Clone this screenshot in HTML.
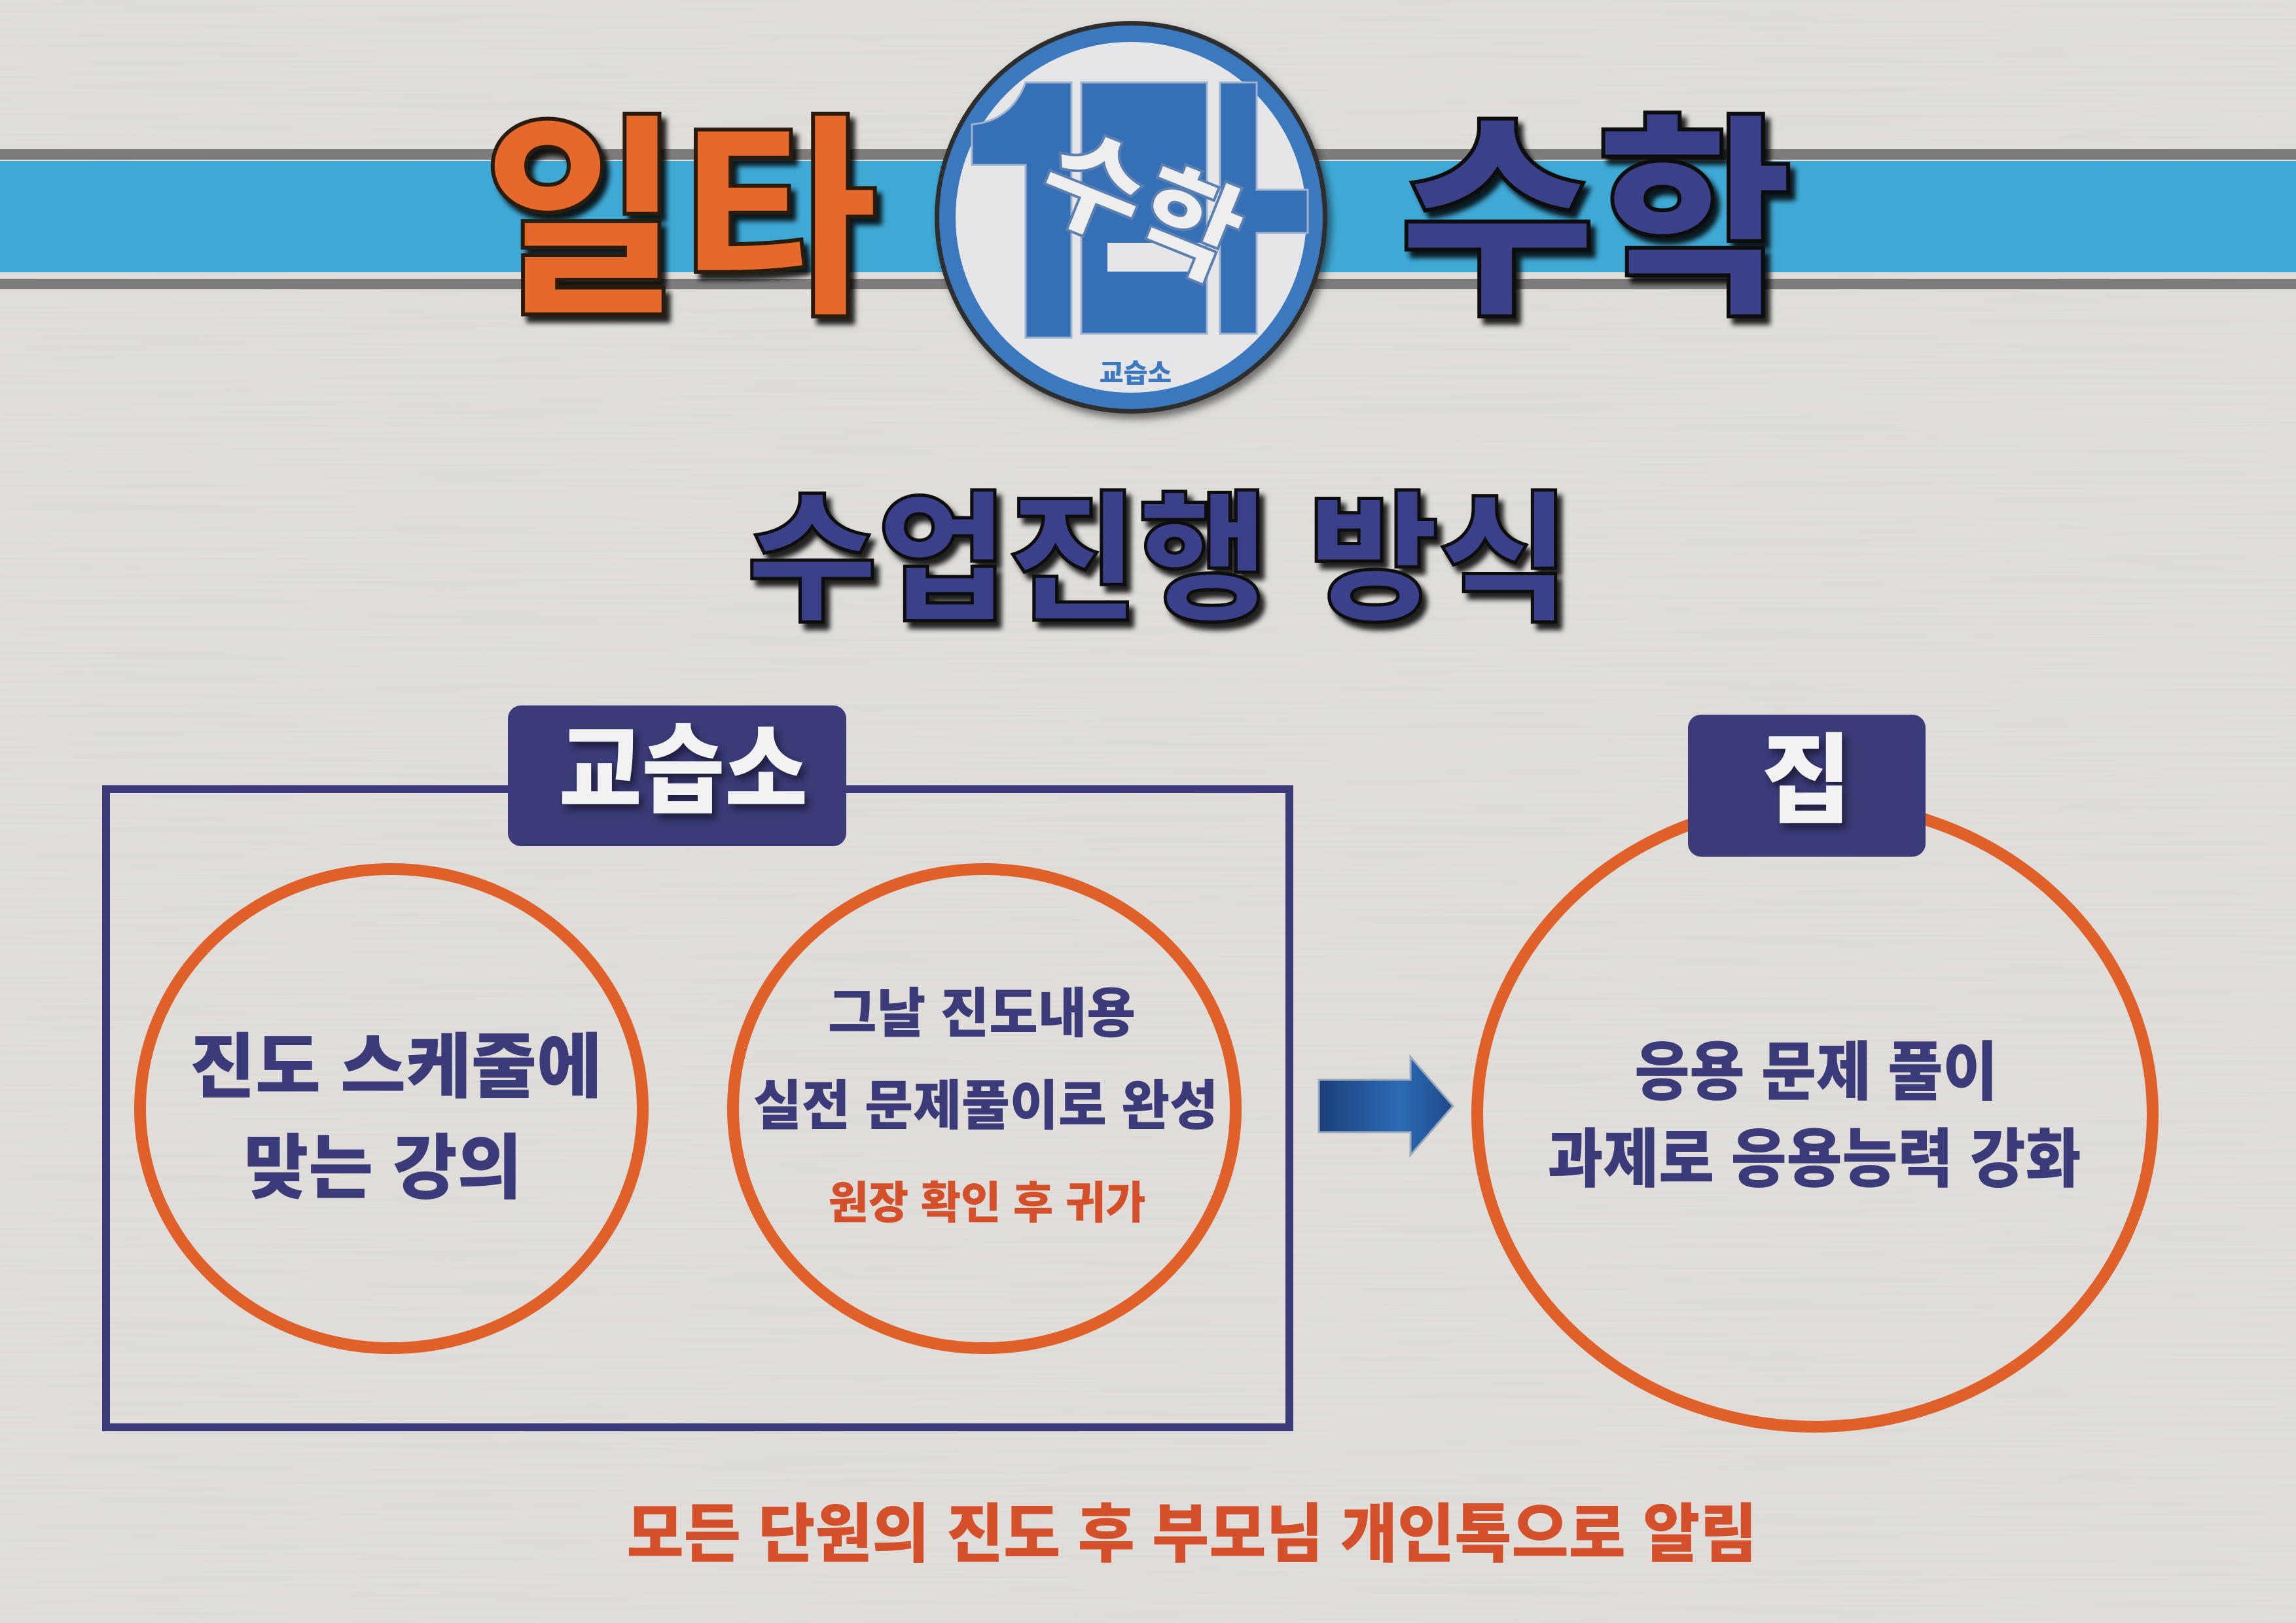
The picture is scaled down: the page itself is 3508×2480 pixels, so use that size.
<!DOCTYPE html>
<html><head><meta charset="utf-8"><style>
html,body{margin:0;padding:0;width:3508px;height:2480px;overflow:hidden;background:#e3e0dc}
svg{display:block}
text{font-family:"Liberation Sans","Noto Sans CJK KR",sans-serif;font-weight:900}
</style></head><body>
<svg width="3508" height="2480" viewBox="0 0 3508 2480" xmlns="http://www.w3.org/2000/svg">
<defs>
<filter id="tex" x="0" y="0" width="100%" height="100%">
<feTurbulence type="fractalNoise" baseFrequency="0.002 0.25" numOctaves="2" seed="3"/>
<feColorMatrix values="0 0 0 0 0.5  0 0 0 0 0.5  0 0 0 0 0.5  0 0 0 0.18 0"/>
</filter>
<filter id="sh" x="-10%" y="-10%" width="130%" height="130%">
<feDropShadow dx="8" dy="10" stdDeviation="4" flood-color="#000" flood-opacity="0.85"/>
</filter>
<filter id="sh2" x="-10%" y="-10%" width="130%" height="130%">
<feDropShadow dx="6" dy="8" stdDeviation="6" flood-color="#000" flood-opacity="0.5"/>
</filter>
<linearGradient id="ag" x1="0" x2="1"><stop offset="0" stop-color="#1c3f7a"/><stop offset="0.6" stop-color="#2c6bb5"/><stop offset="1" stop-color="#1e4a8a"/></linearGradient>
</defs>
<rect width="3508" height="2480" fill="#e3e0dc"/>
<rect width="3508" height="2480" filter="url(#tex)"/>

<!-- band -->
<rect x="0" y="228" width="3508" height="16" fill="#7d7b7b"/>
<rect x="0" y="246" width="3508" height="170" fill="#3fa9d6"/>
<rect x="0" y="426" width="3508" height="16" fill="#7d7b7b"/>

<text x="738" y="452" font-size="330" fill="#e5692c" stroke="#2a1a10" stroke-width="6" textLength="604" lengthAdjust="spacingAndGlyphs" filter="url(#sh)">일타</text>
<text x="2137" y="452" font-size="330" fill="#3a3f8a" stroke="#111" stroke-width="6" textLength="603" lengthAdjust="spacingAndGlyphs" filter="url(#sh)">수학</text>

<!-- logo -->
<g filter="url(#sh2)">
<circle cx="1728" cy="332" r="300" fill="#2d2d2d"/>
<circle cx="1728" cy="332" r="293" fill="#3b78bd"/>
<circle cx="1728" cy="332" r="268" fill="#e6e6e8"/>
</g>
<g fill="#3570b6" stroke="#9fb3cc" stroke-width="3">
<path d="M1567 126 L1637 126 L1637 516 L1567 516 L1567 252 L1485 252 L1485 190 Q1545 185 1567 126 Z"/>
<path d="M1652 126 L1844 126 L1844 510 L1652 510 Z"/>
<path d="M1864 126 L1920 126 L1920 290 L1998 290 L1998 356 L1920 356 L1920 510 L1864 510 Z"/>
</g>
<rect x="1692" y="371" width="150" height="44" fill="#e6e6e8"/>
<text x="1744" y="375" font-size="170" fill="#eeeeee" stroke="#5a7fb0" stroke-width="4" text-anchor="middle" transform="rotate(22 1744 315)">수학</text>
<text x="1735" y="584" font-size="40" fill="#3b78bd" text-anchor="middle">교습소</text>

<text x="1141" y="930" font-size="215" fill="#3a3f8a" stroke="#111" stroke-width="5" textLength="1257" lengthAdjust="spacingAndGlyphs" filter="url(#sh)">수업진행 방식</text>

<rect x="162" y="1206" width="1808" height="975" fill="none" stroke="#3a3b78" stroke-width="12"/>
<rect x="776" y="1078" width="517" height="215" rx="20" fill="#3a3b78"/>
<text x="1044" y="1230" font-size="150" fill="#f2f2f2" text-anchor="middle" textLength="380" lengthAdjust="spacingAndGlyphs" filter="url(#sh2)">교습소</text>

<ellipse cx="598" cy="1694" rx="384" ry="366" fill="none" stroke="#e0602a" stroke-width="18"/>
<ellipse cx="1504" cy="1694" rx="384" ry="366" fill="none" stroke="#e0602a" stroke-width="18"/>
<ellipse cx="2773" cy="1703" rx="516" ry="477" fill="none" stroke="#e0602a" stroke-width="18"/>

<rect x="2579" y="1092" width="363" height="217" rx="20" fill="#3a3b78"/>
<text x="2760" y="1245" font-size="150" fill="#f2f2f2" text-anchor="middle" filter="url(#sh2)">집</text>

<g fill="#3a3b78">
<text x="605" y="1668" font-size="108" text-anchor="middle" textLength="630" lengthAdjust="spacingAndGlyphs">진도 스케줄에</text>
<text x="585" y="1822" font-size="108" text-anchor="middle" textLength="425" lengthAdjust="spacingAndGlyphs">맞는 강의</text>
<text x="1500" y="1577" font-size="82" text-anchor="middle" textLength="470" lengthAdjust="spacingAndGlyphs">그날 진도내용</text>
<text x="1506" y="1718" font-size="82" text-anchor="middle" textLength="710" lengthAdjust="spacingAndGlyphs">실전 문제풀이로 완성</text>
<text x="2775" y="1672" font-size="98" text-anchor="middle" textLength="555" lengthAdjust="spacingAndGlyphs">응용 문제 풀이</text>
<text x="2772" y="1805" font-size="98" text-anchor="middle" textLength="815" lengthAdjust="spacingAndGlyphs">과제로 응용능력 강화</text>
</g>
<text x="1508" y="1862" font-size="68" fill="#d4502a" text-anchor="middle" textLength="485" lengthAdjust="spacingAndGlyphs">원장 확인 후 귀가</text>

<path d="M2015 1650 L2155 1650 L2155 1615 L2220 1690 L2155 1765 L2155 1730 L2015 1730 Z" fill="url(#ag)" stroke="#9ab" stroke-width="3"/>

<text x="1821" y="2378" font-size="98" fill="#d4502a" text-anchor="middle" textLength="1727" lengthAdjust="spacingAndGlyphs">모든 단원의 진도 후 부모님 개인톡으로 알림</text>
</svg>
</body></html>
